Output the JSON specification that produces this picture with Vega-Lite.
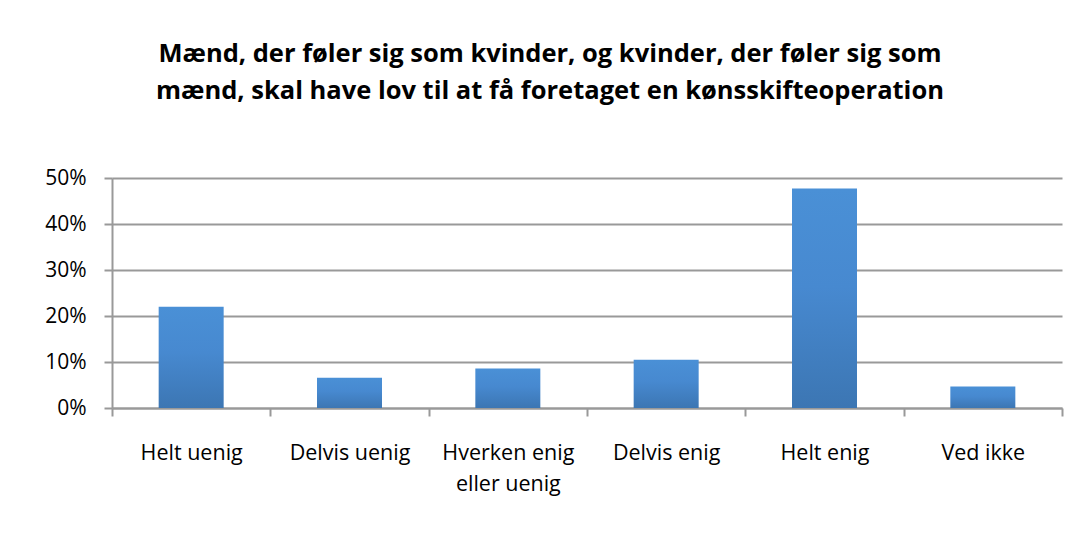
{
  "$schema": "https://vega.github.io/schema/vega-lite/v6.json",
  "width": 950,
  "height": 230,
  "autosize": {"type": "none"},
  "padding": {"left": 112, "top": 178, "right": 15, "bottom": 127},
  "background": "white",
  "title": {
    "text": ["Mænd, der føler sig som kvinder, og kvinder, der føler sig som", "mænd, skal have lov til at få foretaget en kønsskifteoperation"],
    "font": "Open Sans",
    "fontSize": 25.5,
    "fontWeight": "bold",
    "color": "#000000",
    "anchor": "middle",
    "dx": -37,
    "offset": 63,
    "lineHeight": 37
  },
  "data": {
    "values": [
      {"svar": "Helt uenig", "andel": 0.22},
      {"svar": "Delvis uenig", "andel": 0.066},
      {"svar": "Hverken enig eller uenig", "andel": 0.086},
      {"svar": "Delvis enig", "andel": 0.105},
      {"svar": "Helt enig", "andel": 0.477},
      {"svar": "Ved ikke", "andel": 0.047}
    ]
  },
  "mark": {
    "type": "bar",
    "width": 65,
    "color": {
      "gradient": "linear",
      "x1": 0, "y1": 0, "x2": 0, "y2": 1,
      "stops": [
        {"offset": 0, "color": "#4A90D6"},
        {"offset": 0.45, "color": "#4789D0"},
        {"offset": 1, "color": "#3C76B3"}
      ]
    }
  },
  "encoding": {
    "x": {
      "field": "svar",
      "type": "nominal",
      "sort": null,
      "scale": {"paddingInner": 0, "paddingOuter": 0},
      "axis": {
        "title": null,
        "labelAngle": 0,
        "tickBand": "extent",
        "labelFont": "Open Sans",
        "labelFontSize": 21.5,
        "labelColor": "#000000",
        "labelPadding": 26,
        "labelLineHeight": 31,
        "labelExpr": "datum.label == 'Hverken enig eller uenig' ? ['Hverken enig', 'eller uenig'] : datum.label",
        "domainColor": "#999999",
        "domainWidth": 2,
        "tickColor": "#999999",
        "tickWidth": 2,
        "tickSize": 8,
        "grid": false
      }
    },
    "y": {
      "field": "andel",
      "type": "quantitative",
      "scale": {"domain": [0, 0.5]},
      "axis": {
        "title": null,
        "format": ".0%",
        "values": [0, 0.1, 0.2, 0.3, 0.4, 0.5],
        "labelFont": "Open Sans",
        "labelFontSize": 21,
        "labelColor": "#000000",
        "labelPadding": 18,
        "domainColor": "#999999",
        "domainWidth": 2,
        "tickColor": "#999999",
        "tickWidth": 2,
        "tickSize": 8,
        "grid": true,
        "gridColor": "#999999",
        "gridWidth": 2
      }
    }
  },
  "config": {"view": {"stroke": null}}
}
